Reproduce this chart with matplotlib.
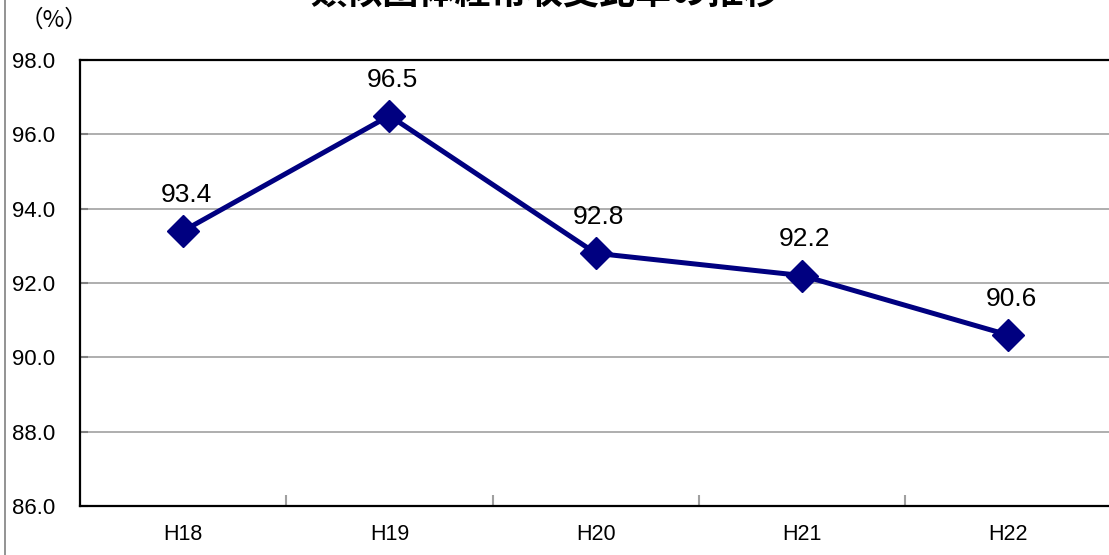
import matplotlib
matplotlib.use("Agg")
import matplotlib.pyplot as plt
from matplotlib.lines import Line2D

# Data
years = ["H18", "H19", "H20", "H21", "H22"]
ratio = [93.4, 96.5, 92.8, 92.2, 90.6]
y_ticks = [86.0, 88.0, 90.0, 92.0, 94.0, 96.0, 98.0]
title = "類似団体経常収支比率の推移"
unit_label = "（%）"

W, H = 1109, 555
fig = plt.figure(figsize=(W / 100, H / 100), dpi=100)
fig.patch.set_facecolor("white")

left, right, top, bottom = 80, 1111.5, 60, 506
ax = fig.add_axes([left / W, (H - bottom) / H, (right - left) / W, (bottom - top) / H])

x = list(range(len(years)))
ax.plot(x, ratio, color="#000080", linewidth=3.6, marker="D", markersize=16,
        markerfacecolor="#000080", markeredgecolor="#000080", zorder=3, clip_on=False)

for xi, v in zip(x, ratio):
    ax.annotate(f"{v:.1f}", (xi, v), xytext=(2, 26), textcoords="offset points",
                ha="center", va="center", fontsize=19, family="Liberation Sans",
                color="black")

ax.set_xlim(-0.5, len(years) - 0.5)
ax.set_ylim(y_ticks[0], y_ticks[-1])
ax.set_yticks(y_ticks)
ax.set_yticklabels([f"{t:.1f}" for t in y_ticks], family="Liberation Sans", fontsize=16)
ax.set_xticks(x)
ax.set_xticklabels(years, family="Liberation Sans", fontsize=15.5)
ax.set_xticks([i + 0.5 for i in range(len(years) - 1)], minor=True)

ax.tick_params(axis="x", which="major", length=0, pad=13)
ax.tick_params(axis="x", which="minor", direction="in", length=8, width=1.5, color="#a0a0a0")
ax.tick_params(axis="y", which="major", direction="in", length=6, width=1.5,
               color="#808080", pad=24)
for lab in ax.get_yticklabels():
    lab.set_horizontalalignment("left")
    lab.set_x(-(80 - 12) / (right - left))
    lab.set_transform(ax.get_yaxis_transform())

ax.yaxis.grid(True, color="#a8a8a8", linewidth=1.3)
ax.set_axisbelow(True)
for s in ax.spines.values():
    s.set_color("black")
    s.set_linewidth(1.6)

# Unit label and title
fig.text(20 / W, 1 - 20 / H, unit_label, ha="left", va="center", fontsize=17,
         family=["Noto Sans CJK JP", "DejaVu Sans"])
fig.text(545 / W, 1 - 4 / H, title, ha="center", va="baseline", fontsize=26,
         fontweight="bold", family=["Noto Sans CJK JP", "DejaVu Sans"])

# Outer chart frame edge on the left
fig.add_artist(Line2D([5 / W, 5 / W], [0, 1], transform=fig.transFigure,
                      color="#808080", linewidth=1.2))

fig.savefig("out.png", dpi=100)
